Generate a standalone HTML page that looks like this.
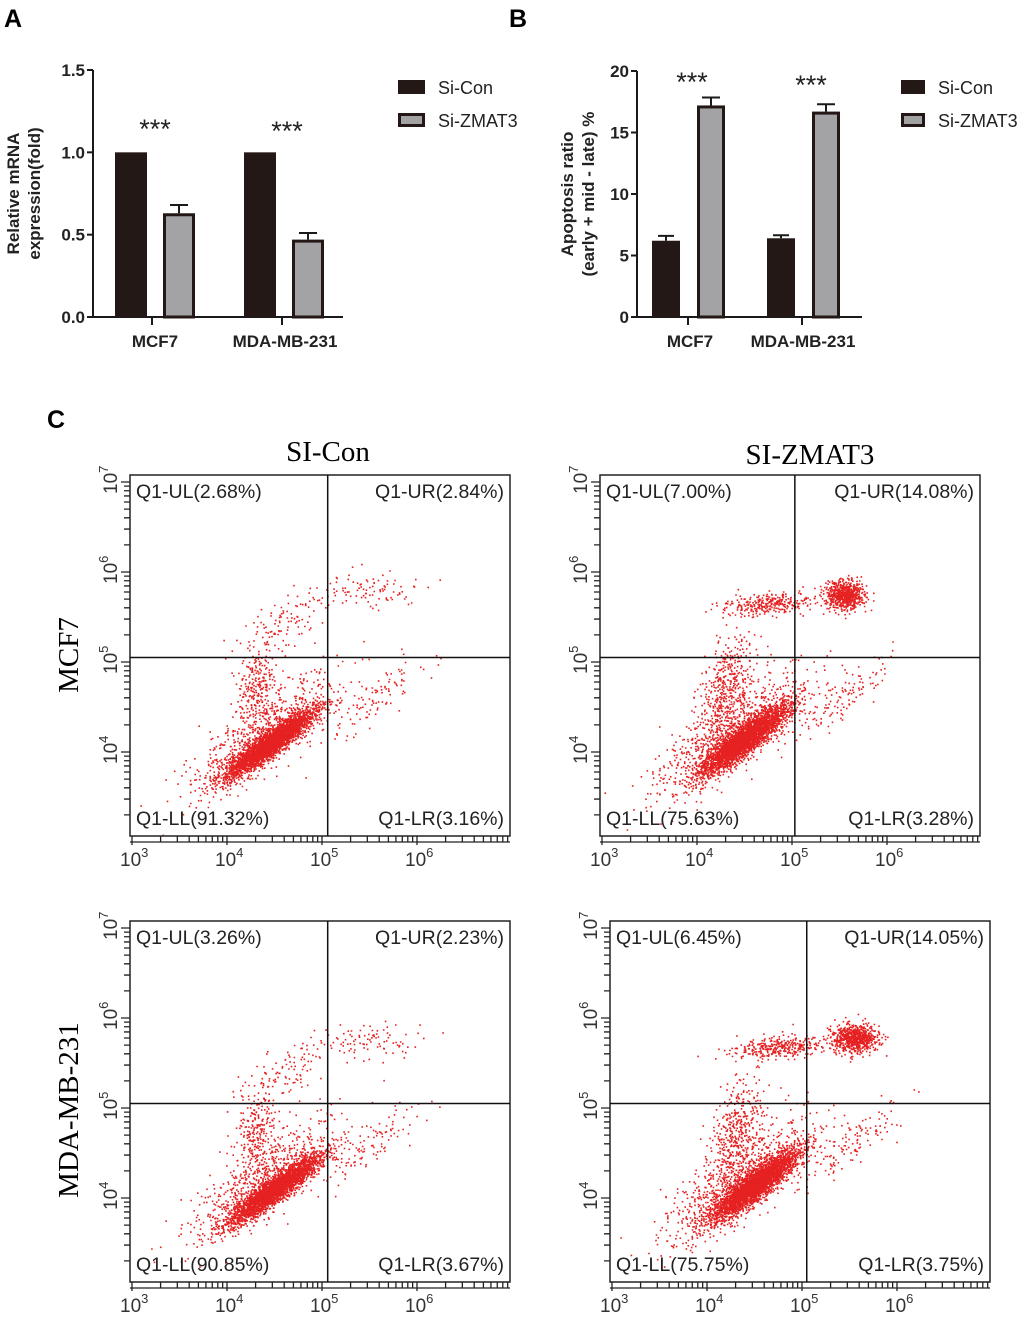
<!DOCTYPE html>
<html><head><meta charset="utf-8"><style>
body{margin:0;background:#fff;}
svg{display:block;}
text{font-family:"Liberation Sans",sans-serif;}
</style></head><body>
<svg id="fig" width="1020" height="1317" viewBox="0 0 1020 1317">
<defs>
<clipPath id="c0"><rect x="130" y="475" width="380" height="361"/></clipPath>
<clipPath id="c1"><rect x="600" y="475" width="381" height="361"/></clipPath>
<clipPath id="c2"><rect x="130" y="921" width="380" height="361"/></clipPath>
<clipPath id="c3"><rect x="610" y="921" width="380" height="361"/></clipPath>
</defs>
<text x="4" y="27" font-size="25" font-weight="bold">A</text>
<text x="509" y="27" font-size="25" font-weight="bold">B</text>
<text x="47" y="428" font-size="25" font-weight="bold">C</text>
<g id="barA"></g>
<g id="barB"></g>
<text x="328" y="461" font-size="29" text-anchor="middle" style="font-family:'Liberation Serif',serif">SI-Con</text>
<text x="810" y="464" font-size="29" text-anchor="middle" style="font-family:'Liberation Serif',serif">SI-ZMAT3</text>
<text transform="translate(78,655) rotate(-90)" font-size="29" text-anchor="middle" style="font-family:'Liberation Serif',serif">MCF7</text>
<text transform="translate(78,1110) rotate(-90)" font-size="29" text-anchor="middle" style="font-family:'Liberation Serif',serif">MDA-MB-231</text>
<g id="flows"></g>
</svg>
<script>
const NS='http://www.w3.org/2000/svg';
function mk(parent,tag,attrs,txt){const e=document.createElementNS(NS,tag);for(const k in attrs)e.setAttribute(k,attrs[k]);if(txt!==undefined)e.textContent=txt;parent.appendChild(e);return e;}

// ---------- Bar chart A ----------
const catsA=['MCF7','MDA-MB-231'];
const conA=[1.0,1.0];
const zmA=[0.63,0.47];
const zmErrA=[0.05,0.04];
const ticksA=[0,0.5,1.0,1.5];
const tickLabA=['0.0','0.5','1.0','1.5'];
// ---------- Bar chart B ----------
const catsB=['MCF7','MDA-MB-231'];
const conB=[6.2,6.4];
const conErrB=[0.4,0.25];
const zmB=[17.2,16.7];
const zmErrB=[0.65,0.6];
const ticksB=[0,5,10,15,20];
const tickLabB=['0','5','10','15','20'];

function barChart(g,o){
  const yS=v=>o.y0-(v-0)/(o.ymax)*(o.y0-o.y1);
  const ax=mk(g,'path',{d:`M${o.ax},${o.y1} V${o.y0} H${o.axEnd}`,stroke:'#1a1a1a','stroke-width':2,fill:'none'});
  
  o.ticks.forEach((t,i)=>{
    const y=yS(t);
    const tk=mk(g,'line',{x1:o.ax-6,x2:o.ax,y1:y,y2:y,stroke:'#1a1a1a','stroke-width':2});
    
    const tl=mk(g,'text',{x:o.ax-8,y:y+6,'font-size':17,'font-weight':'bold','text-anchor':'end',fill:'#222'},o.tickLab[i]);
    
  });
  const yt=mk(g,'text',{transform:`translate(${o.ytx},${(o.y0+o.y1)/2}) rotate(-90)`,'font-size':17,'font-weight':'bold','text-anchor':'middle',fill:'#222'});
  
  mk(yt,'tspan',{x:0,dy:-5},o.yl1);mk(yt,'tspan',{x:0,dy:21},o.yl2);
  o.cats.forEach((c,i)=>{
    const gx=o.gx[i];
    const tk=mk(g,'line',{x1:o.catTick[i],x2:o.catTick[i],y1:o.y0,y2:o.y0+8,stroke:'#1a1a1a','stroke-width':2});
    
    const cl=mk(g,'text',{x:o.catLab[i],y:o.y0+30,'font-size':17,'font-weight':'bold','text-anchor':'middle',fill:'#222'},c);
    
    const cv=o.con[i];
    if(o.conErr){const e=o.conErr[i];const ep=mk(g,'path',{d:`M${gx+o.bw/2},${yS(cv)} V${yS(cv+e)} M${gx+o.bw/2-8},${yS(cv+e)} H${gx+o.bw/2+8}`,stroke:'#1a1a1a','stroke-width':2});}
    const b1=mk(g,'rect',{x:gx,y:yS(cv),width:o.bw,height:o.y0-yS(cv),fill:'#231815'});
    
    const zx=gx+o.gap;const zv=o.zm[i],ze=o.zmErr[i];
    const ep=mk(g,'path',{d:`M${zx+o.bw/2},${yS(zv)} V${yS(zv+ze)} M${zx+o.bw/2-9},${yS(zv+ze)} H${zx+o.bw/2+9}`,stroke:'#1a1a1a','stroke-width':2});
    
    const b2=mk(g,'rect',{x:zx+1.5,y:yS(zv)+1.5,width:o.bw-3,height:o.y0-yS(zv)-1.5,fill:'#a3a3a6',stroke:'#231815','stroke-width':3});
    
    const st=mk(g,'text',{x:o.star[i],y:o.starY[i],'font-size':27,'text-anchor':'middle',fill:'#222'},'***');
    
  });
  [['Si-Con','#231815',0],['Si-ZMAT3','#a3a3a6',1]].forEach(([n,col,k])=>{
    const y=o.ly+k*33;
    const sw=mk(g,'rect',{x:o.lx+1.5,y:y+1.5,width:o.lw-3,height:11,fill:col,stroke:'#231815','stroke-width':3});
    
    const lt=mk(g,'text',{x:o.lx+o.lw+13,y:y+14,'font-size':18,fill:'#222'},n);
    
  });
}
barChart(document.getElementById('barA'),{ax:93,axEnd:343,y0:317,y1:70,ymax:1.5,ticks:ticksA,tickLab:tickLabA,ytx:24,yl1:'Relative mRNA',yl2:'expression(fold)',cats:catsA,gx:[115,244],bw:32,gap:48,con:conA,zm:zmA,zmErr:zmErrA,catTick:[152,282],catLab:[155,285],star:[155,287],starY:[138,140],lx:398,lw:27,ly:80});
barChart(document.getElementById('barB'),{ax:637,axEnd:862,y0:317,y1:71,ymax:20,ticks:ticksB,tickLab:tickLabB,ytx:578,yl1:'Apoptosis ratio',yl2:'(early + mid - late) %',cats:catsB,gx:[652,767],bw:28,gap:45,con:conB,conErr:conErrB,zm:zmB,zmErr:zmErrB,catTick:[688,802],catLab:[690,803],star:[692,811],starY:[91,94],lx:901,lw:24,ly:80});

// ---------- Flow cytometry data ----------
const qUL=['2.68%','7.00%','3.26%','6.45%'];
const qUR=['2.84%','14.08%','2.23%','14.05%'];
const qLL=['91.32%','75.63%','90.85%','75.75%'];
const qLR=['3.16%','3.28%','3.67%','3.75%'];
const gateX=[5.06,5.03,5.06,5.05];
const gateY=[5.05,5.05,5.05,5.05];
// clusters: log x center, log y center, sd along, sd across, angle deg, count
const clCx=[[4.45,4.35,4.3,4.6,5.5,5.55],[4.5,4.3,4.3,4.75,5.55,5.5],[4.5,4.35,4.3,4.6,5.5,5.5],[4.5,4.3,4.3,4.75,5.55,5.5]];
const clCy=[[4.1,4.2,4.75,5.45,5.8,4.6],[4.15,4.2,4.75,5.65,5.75,4.6],[4.1,4.2,4.75,5.4,5.75,4.6],[4.15,4.2,4.75,5.68,5.78,4.6]];
const clSa=[[0.3,0.48,0.22,0.3,0.28,0.35],[0.3,0.48,0.3,0.25,0.1,0.35],[0.3,0.48,0.22,0.3,0.28,0.35],[0.3,0.48,0.3,0.25,0.12,0.35]];
const clSc=[[0.06,0.16,0.1,0.12,0.1,0.1],[0.07,0.17,0.12,0.06,0.08,0.1],[0.06,0.16,0.1,0.12,0.1,0.1],[0.07,0.17,0.12,0.06,0.08,0.1]];
const clAng=[[38,42,80,35,0,40],[40,42,75,5,0,40],[38,42,80,35,0,40],[40,42,75,5,0,40]];
const clN=[[3000,650,220,110,90,110],[3000,750,380,300,650,130],[3000,650,220,110,90,110],[3000,750,380,320,700,130]];
const boxes=[[130,475],[600,475],[130,921],[610,921]];

function halton(i,b){let f=1,r=0;while(i>0){f/=b;r+=f*(i%b);i=Math.floor(i/b);}return r;}

const flows=document.getElementById('flows');
const names=['mcf7-si-con','mcf7-si-zmat3','mda-mb-231-si-con','mda-mb-231-si-zmat3'];
for(let p=0;p<4;p++){
  const [L,T]=boxes[p];const W=380,H=361;
  const xS=v=>L+2+(v-3)*95;
  const yS=v=>T+7+(7-v)*90;
  const g=mk(flows,'g',{});
  
  const dg=mk(g,'g',{'clip-path':`url(#c${p})`});
  let seed=p*7919+1;
  for(let c=0;c<clN[p].length;c++){
    const a=clAng[p][c]*Math.PI/180;let d='';
    for(let i=0;i<clN[p][c];i++){
      const k=seed+i;
      const u1=Math.max(halton(k,2),1e-4),u2=halton(k,3),u3=Math.max(halton(k,5),1e-4),u4=halton(k,7);
      const g1=Math.sqrt(-2*Math.log(u1))*Math.cos(2*Math.PI*u2);
      const g2=Math.sqrt(-2*Math.log(u3))*Math.cos(2*Math.PI*u4);
      const al=g1*clSa[p][c],ac=g2*clSc[p][c];
      const lx=clCx[p][c]+al*Math.cos(a)-ac*Math.sin(a);
      const ly=clCy[p][c]+al*Math.sin(a)+ac*Math.cos(a);
      d+=`M${xS(lx).toFixed(1)} ${yS(ly).toFixed(1)}h1.6v1.6h-1.6z`;
    }
    seed+=clN[p][c];
    const pt=mk(dg,'path',{d:d,fill:'#e62121'});
    
  }
  const bx=mk(g,'rect',{x:L,y:T,width:W,height:H,fill:'none',stroke:'#222','stroke-width':1.5});
  
  const gxp=xS(gateX[p]),gyp=yS(gateY[p]);
  const gl=mk(g,'path',{d:`M${gxp},${T} V${T+H} M${L},${gyp} H${L+W}`,stroke:'#111','stroke-width':1.5});
  
  let tk='';
  for(let dec=3;dec<=6;dec++){for(let m=1;m<10;m++){const v=dec+Math.log10(m);const x=xS(v);if(x>L+W)break;tk+=`M${x} ${T+H} v${m==1?9:6}`;}}
  for(let dec=3;dec<=6;dec++){for(let m=1;m<10;m++){const v=dec+Math.log10(m);const y=yS(v);if(y<T||y>T+H)continue;tk+=`M${L} ${y} h-${m==1?9:6}`;}}
  tk+=`M${L} ${yS(7)} h-9 M${L} ${T+H+6} H${L+W}`;
  const ticks=mk(g,'path',{d:tk,stroke:'#222','stroke-width':1.3,fill:'none'});
  
  for(let dec=3;dec<=6;dec++){
    const t=mk(g,'text',{x:xS(dec)-12,y:T+H+30,'font-size':19,fill:'#333'});
    
    mk(t,'tspan',{},'10');mk(t,'tspan',{dy:-9,'font-size':13},String(dec));
  }
  for(let dec=4;dec<=7;dec++){
    const t=mk(g,'text',{transform:`translate(${L-13},${yS(dec)+12}) rotate(-90)`,'font-size':19,fill:'#333'});
    
    mk(t,'tspan',{},'10');mk(t,'tspan',{dy:-9,'font-size':13},String(dec));
  }
  const q=[['Q1-UL('+qUL[p]+')',L+6,T+23,'start','ul'],['Q1-UR('+qUR[p]+')',L+W-6,T+23,'end','ur'],['Q1-LL('+qLL[p]+')',L+6,T+H-11,'start','ll'],['Q1-LR('+qLR[p]+')',L+W-6,T+H-11,'end','lr']];
  q.forEach(([s,x,y,an,nm])=>{const t=mk(g,'text',{x:x,y:y,'font-size':19.5,fill:'#222','text-anchor':an},s);
    });
}
</script>
</body></html>
